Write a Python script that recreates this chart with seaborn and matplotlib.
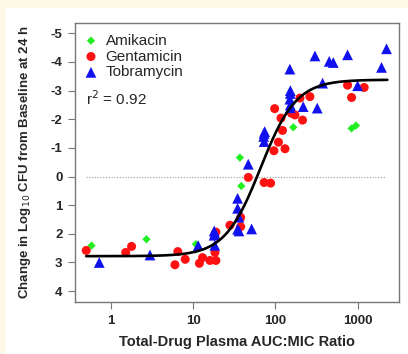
import numpy as np
import pandas as pd
import matplotlib
matplotlib.use("Agg")
import matplotlib.pyplot as plt
import seaborn as sns

# --- data: AUC:MIC ratio and change in log10 CFU ---
ami_x = [0.58, 2.7, 10.8, 37, 38.5, 165, 845, 955]
ami_y = [2.41, 2.19, 2.36, -0.66, 0.33, -1.72, -1.68, -1.78]

gen_x = [0.50, 1.51, 1.78, 6.0, 6.5, 8.0, 11.9, 13.0, 16.0, 18.9, 18.4, 18.9,
         28, 37.8, 37.8, 46.8, 73, 87.5, 96, 98, 109, 117, 122, 131, 157, 173,
         199, 214, 263, 755, 845, 1203]
gen_y = [2.58, 2.65, 2.44, 3.08, 2.62, 2.89, 3.03, 2.83, 2.93, 2.93, 2.65, 1.94,
         1.70, 1.43, 1.75, 0.03, 0.21, 0.23, -0.90, -2.37, -1.20, -2.04, -1.61, -0.97, -2.21, -2.15,
         -2.74, -1.97, -2.79, -3.19, -2.76, -3.11]

tob_x = [0.72, 2.98, 11.5, 18, 18, 18.3, 18.3, 34.7, 34.7, 36, 34.7, 36, 46.8, 51.4,
         73, 74, 73, 72, 150, 152, 152, 150, 152, 152, 218, 303, 323, 375, 452, 506,
         755, 1000, 1955, 2250]
tob_y = [3.0, 2.74, 2.41, 1.9, 2.05, 1.98, 2.4, 0.76, 1.11, 1.42, 1.84, 1.9, -0.43, 1.83,
         -1.5, -1.57, -1.22, -1.4, -3.75, -3.0, -2.9, -2.7, -2.5, -2.4, -2.44, -4.21, -2.39, -3.26, -4.02, -3.98,
         -4.25, -3.17, -3.81, -4.46]

# sigmoid Emax fit parameters
e0 = 2.78
emax = -6.16
ec50 = 66
hill = 2.0
r2 = 0.92

df = pd.concat([
    pd.DataFrame({"x": ami_x, "y": ami_y, "drug": "Amikacin"}),
    pd.DataFrame({"x": gen_x, "y": gen_y, "drug": "Gentamicin"}),
    pd.DataFrame({"x": tob_x, "y": tob_y, "drug": "Tobramycin"}),
])

sns.set_style("white")
plt.rcParams["font.family"] = ["Liberation Sans", "DejaVu Sans"]
plt.rcParams["axes.unicode_minus"] = False

fig = plt.figure(figsize=(4.08, 3.54), dpi=100)
fig.patch.set_facecolor("#FEF8E6")
fig.add_artist(plt.Rectangle((6 / 408, 0), 1, 1 - 7.5 / 354, transform=fig.transFigure,
                             facecolor="white", edgecolor="none", zorder=0))
ax = fig.add_axes([75 / 408, 1 - 302 / 354, 324 / 408, 279 / 354])

styles = {"Amikacin": ("D", "#22EE22", 18),
          "Gentamicin": ("o", "#FF1111", 42),
          "Tobramycin": ("^", "#1111EE", 60)}
for drug, (mk, col, sz) in styles.items():
    sub = df[df["drug"] == drug]
    sns.scatterplot(data=sub, x="x", y="y", marker=mk, color=col, s=sz,
                    edgecolor="none", label=drug, ax=ax, zorder=3)

xs = np.logspace(np.log10(0.5), np.log10(2300), 300)
ys = e0 + emax * xs ** hill / (ec50 ** hill + xs ** hill)
ax.plot(xs, ys, color="black", lw=1.9, zorder=4)
ax.plot([0.5, 2200], [0, 0], color="#999999", lw=0.8, ls=(0, (1, 1.5)), zorder=1)

ax.set_xscale("log")
ax.set_xlim(0.365, 3190)
ax.set_ylim(4.38, -5.36)
ax.set_xticks([1, 10, 100, 1000])
ax.set_xticklabels(["1", "10", "100", "1000"])
ax.xaxis.set_minor_locator(matplotlib.ticker.NullLocator())
ax.set_yticks(range(-5, 5))
ax.set_yticklabels([str(v) for v in range(-5, 5)])
ax.tick_params(axis="both", direction="out", length=5, width=0.8, color="#777777",
               labelsize=9.5, pad=4, left=True, bottom=True)
for lab in ax.get_xticklabels() + ax.get_yticklabels():
    lab.set_fontweight("bold")
for sp in ax.spines.values():
    sp.set_color("#777777")
    sp.set_linewidth(1.0)

ax.set_xlabel("Total-Drug Plasma AUC:MIC Ratio", fontsize=10.5, fontweight="bold", labelpad=6)
ax.set_ylabel("Change in Log$_{10}$ CFU from Baseline at 24 h", fontsize=9.5, fontweight="bold", labelpad=13)

ax.legend(loc="upper left", bbox_to_anchor=(-0.012, 1.0), frameon=False, fontsize=11,
          handletextpad=0.35, borderaxespad=0.3, labelspacing=0.12, handlelength=1.2,
          borderpad=0.4)
ax.text(0.035, 0.728, "r$^2$ = %.2f" % r2, transform=ax.transAxes, fontsize=11, va="center")

fig.savefig("out.png", dpi=100)
